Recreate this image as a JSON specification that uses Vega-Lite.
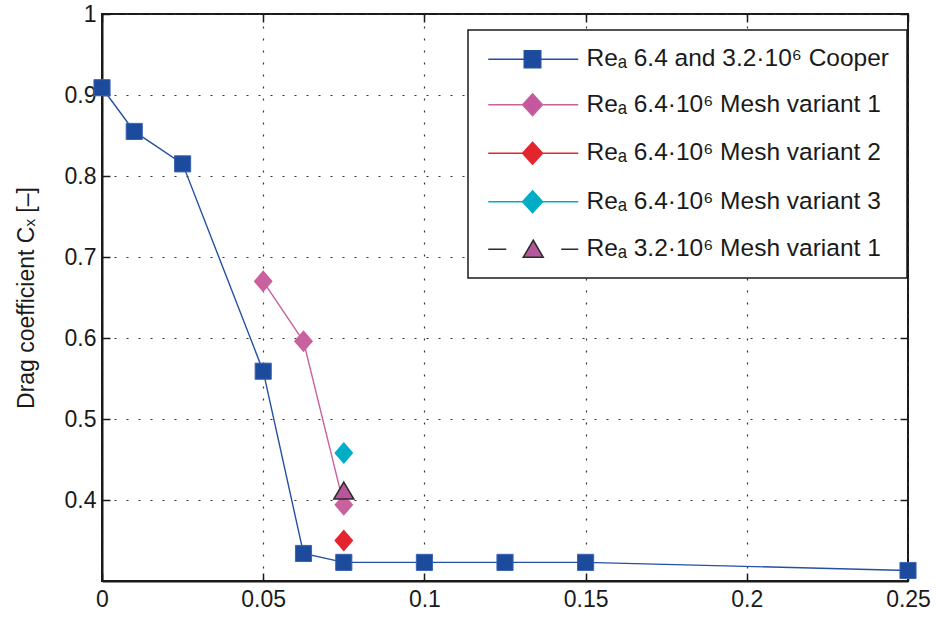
{
  "$schema": "https://vega.github.io/schema/vega-lite/v6.json",
  "width": 806,
  "height": 567,
  "autosize": "none",
  "padding": {"left": 102, "top": 14, "right": 28, "bottom": 38},
  "background": "white",
  "config": {
    "font": "Liberation Sans",
    "view": {"stroke": "#1a1a1a", "strokeWidth": 2},
    "axis": {
      "labelFont": "Liberation Sans",
      "labelFontSize": 23,
      "labelColor": "#1a1a1a",
      "labelFlush": false,
      "titleFont": "Liberation Sans",
      "titleFontSize": 23,
      "titleFontWeight": "normal",
      "titleColor": "#1a1a1a",
      "domainColor": "#1a1a1a",
      "domainWidth": 2,
      "tickColor": "#1a1a1a",
      "tickWidth": 1.5,
      "tickSize": -8,
      "gridColor": "#333333",
      "gridDash": [2, 10],
      "gridWidth": 1.2
    },
    "legend": {
      "strokeColor": "#1a1a1a",
      "strokeWidth": 1.5,
      "fillColor": "white",
      "cornerRadius": 0,
      "symbolOpacity": 1
    }
  },
  "data": {
    "values": [
      {"id": 1, "series": "Reₐ 6.4 and 3.2·10⁶ Cooper", "x": 0, "y": 0.909},
      {"id": 1, "series": "Reₐ 6.4 and 3.2·10⁶ Cooper", "x": 0.01, "y": 0.855},
      {"id": 1, "series": "Reₐ 6.4 and 3.2·10⁶ Cooper", "x": 0.025, "y": 0.815},
      {"id": 1, "series": "Reₐ 6.4 and 3.2·10⁶ Cooper", "x": 0.05, "y": 0.559},
      {"id": 1, "series": "Reₐ 6.4 and 3.2·10⁶ Cooper", "x": 0.0625, "y": 0.334},
      {"id": 1, "series": "Reₐ 6.4 and 3.2·10⁶ Cooper", "x": 0.075, "y": 0.323},
      {"id": 1, "series": "Reₐ 6.4 and 3.2·10⁶ Cooper", "x": 0.1, "y": 0.323},
      {"id": 1, "series": "Reₐ 6.4 and 3.2·10⁶ Cooper", "x": 0.125, "y": 0.323},
      {"id": 1, "series": "Reₐ 6.4 and 3.2·10⁶ Cooper", "x": 0.15, "y": 0.323},
      {"id": 1, "series": "Reₐ 6.4 and 3.2·10⁶ Cooper", "x": 0.25, "y": 0.313},
      {"id": 2, "series": "Reₐ 6.4·10⁶ Mesh variant 1", "x": 0.05, "y": 0.670},
      {"id": 2, "series": "Reₐ 6.4·10⁶ Mesh variant 1", "x": 0.0625, "y": 0.596},
      {"id": 2, "series": "Reₐ 6.4·10⁶ Mesh variant 1", "x": 0.075, "y": 0.394},
      {"id": 3, "series": "Reₐ 6.4·10⁶ Mesh variant 2", "x": 0.075, "y": 0.350},
      {"id": 4, "series": "Reₐ 6.4·10⁶ Mesh variant 3", "x": 0.075, "y": 0.458},
      {"id": 5, "series": "Reₐ 3.2·10⁶ Mesh variant 1", "x": 0.075, "y": 0.411}
    ]
  },
  "layer": [
    {
      "transform": [{"filter": "datum.id <= 2"}],
      "mark": {"type": "line", "strokeWidth": 1.4},
      "encoding": {
        "x": {
          "field": "x", "type": "quantitative",
          "scale": {"domain": [0, 0.25], "nice": false, "zero": false},
          "axis": {"orient": "bottom", "values": [0, 0.05, 0.1, 0.15, 0.2, 0.25], "format": "~g", "title": null, "grid": true, "labelPadding": 15}
        },
        "y": {
          "field": "y", "type": "quantitative",
          "scale": {"domain": [0.3, 1], "nice": false, "zero": false},
          "axis": {"orient": "left", "values": [0.4, 0.5, 0.6, 0.7, 0.8, 0.9, 1], "format": "~g", "title": "Drag coefficient Cₓ [–]", "grid": true, "labelPadding": 14, "titlePadding": 26}
        },
        "color": {
          "field": "series", "type": "nominal", "legend": null,
          "scale": {
            "domain": ["Reₐ 6.4 and 3.2·10⁶ Cooper", "Reₐ 6.4·10⁶ Mesh variant 1", "Reₐ 6.4·10⁶ Mesh variant 2", "Reₐ 6.4·10⁶ Mesh variant 3"],
            "range": ["#2450a3", "#c9619f", "#e3252f", "#00adc5"]
          }
        }
      }
    },
    {
      "transform": [{"filter": "datum.id == 1"}],
      "mark": {"type": "point", "shape": "square", "size": 260, "opacity": 1, "strokeWidth": 1, "stroke": "#3a63b0", "fill": "#1c4a9c"},
      "encoding": {
        "x": {"field": "x", "type": "quantitative", "axis": null},
        "y": {"field": "y", "type": "quantitative", "axis": null}
      }
    },
    {
      "transform": [{"filter": "datum.id >= 2 && datum.id <= 4"}],
      "mark": {"type": "point", "shape": "M0,-1.15L1,0L0,1.15L-1,0Z", "filled": true, "size": 361, "opacity": 1, "strokeWidth": 0},
      "encoding": {
        "x": {"field": "x", "type": "quantitative", "axis": null},
        "y": {"field": "y", "type": "quantitative", "axis": null},
        "color": {"field": "series", "type": "nominal", "legend": null}
      }
    },
    {
      "transform": [{"filter": "datum.id == 5"}],
      "mark": {"type": "point", "shape": "M0,-0.9L1,0.8L-1,0.8Z", "filled": true, "fill": "#b6579c", "size": 400, "opacity": 1, "stroke": "#2b2b2b", "strokeWidth": 1.5},
      "encoding": {
        "x": {"field": "x", "type": "quantitative", "axis": null},
        "y": {"field": "y", "type": "quantitative", "axis": null}
      }
    },
    {
      "mark": {"type": "point", "opacity": 0, "filled": true, "strokeWidth": 0},
      "encoding": {
        "x": {"field": "x", "type": "quantitative", "axis": null},
        "y": {"field": "y", "type": "quantitative", "axis": null},
        "fill": {
          "field": "series", "type": "nominal",
          "scale": {
            "domain": ["Reₐ 6.4 and 3.2·10⁶ Cooper", "Reₐ 6.4·10⁶ Mesh variant 1", "Reₐ 6.4·10⁶ Mesh variant 2", "Reₐ 6.4·10⁶ Mesh variant 3", "Reₐ 3.2·10⁶ Mesh variant 1"],
            "range": ["#1c4a9c", "#c4589f", "#e3252f", "#00adc5", "#b6579c"]
          },
          "legend": {
            "title": null,
            "orient": "none",
            "legendX": 366,
            "legendY": 16,
            "direction": "vertical",
            "padding": 17,
            "rowPadding": 19.5,
            "labelOffset": 77,
            "labelFont": "Liberation Sans",
            "labelFontSize": 24.5,
            "labelColor": "#1a1a1a",
            "labelLimit": 0,
            "symbolSize": 400,
            "symbolStrokeWidth": 1.5,
            "encode": {
              "symbols": {
                "update": {
                  "shape": {"signal": "['M-0.9,0H2.7M4.35,0H8.1M2.7,-0.85H4.35V0.85H2.7Z', 'M-0.9,0H2.53M4.53,0H8.1M3.53,-1.1L4.53,0L3.53,1.1L2.53,0Z', 'M-0.9,0H2.53M4.53,0H8.1M3.53,-1.1L4.53,0L3.53,1.1L2.53,0Z', 'M-0.9,0H2.53M4.53,0H8.1M3.53,-1.1L4.53,0L3.53,1.1L2.53,0Z', 'M-0.9,0H0.9M6.4,0H8.1M3.6,-0.9L4.6,0.8L2.6,0.8Z'][indexof(domain('fill'), datum.value)]"},
                  "stroke": {"signal": "['#2450a3', '#c9619f', '#e3252f', '#00adc5', '#2b2b2b'][indexof(domain('fill'), datum.value)]"},
                  "strokeWidth": {"value": 1.5},
                  "opacity": {"value": 1},
                  "size": {"value": 400}
                }
              }
            }
          }
        }
      }
    },
    {
      "mark": {"type": "point", "opacity": 0},
      "encoding": {
        "x": {"field": "x", "type": "quantitative", "axis": {"orient": "top", "values": [0, 0.05, 0.1, 0.15, 0.2, 0.25], "labels": false, "domain": false, "grid": false, "title": null}},
        "y": {"field": "y", "type": "quantitative", "axis": {"orient": "right", "values": [0.4, 0.5, 0.6, 0.7, 0.8, 0.9, 1], "labels": false, "domain": false, "grid": false, "title": null}}
      }
    }
  ],
  "resolve": {"axis": {"x": "independent", "y": "independent"}}
}
